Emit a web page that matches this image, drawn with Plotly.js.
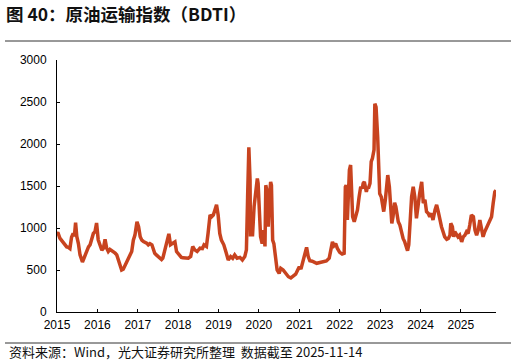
<!DOCTYPE html>
<html>
<head>
<meta charset="utf-8">
<script src="https://cdn.plot.ly/plotly-3.0.1.min.js"></script>
<style>
html,body{margin:0;padding:0;background:#fff;}
#chart{width:516px;height:364px;}
</style>
</head>
<body>
<div id="chart"></div>
<script>
// decimal-year positions of readings
const years = [
2015.00,2015.02,2015.07,2015.12,2015.16,2015.20,2015.24,2015.28,2015.32,2015.36,2015.40,2015.43,2015.46,2015.49,2015.53,2015.57,2015.63,2015.68,2015.74,2015.78,2015.82,2015.86,2015.90,2015.94,2015.98,
2016.02,2016.07,2016.11,2016.15,2016.19,2016.23,2016.27,2016.31,2016.36,2016.40,2016.44,2016.48,2016.52,2016.56,2016.60,2016.64,2016.69,2016.73,2016.77,2016.81,2016.85,2016.89,2016.93,2016.98,
2017.02,2017.06,2017.10,2017.14,2017.18,2017.22,2017.26,2017.30,2017.35,2017.38,2017.42,2017.46,2017.51,2017.55,2017.59,2017.62,2017.65,2017.71,2017.77,2017.81,2017.86,2017.92,2017.96,
2018.03,2018.08,2018.12,2018.17,2018.21,2018.25,2018.31,2018.36,2018.41,2018.47,2018.54,2018.60,2018.64,2018.70,2018.74,2018.79,2018.83,2018.87,2018.91,2018.95,2018.99,
2019.03,2019.07,2019.13,2019.18,2019.24,2019.30,2019.35,2019.40,2019.46,2019.53,2019.59,2019.65,2019.69,2019.72,2019.75,2019.78,2019.79,2019.82,2019.84,2019.88,2019.92,2019.96,2019.98,
2020.01,2020.04,2020.08,2020.12,2020.15,2020.17,2020.21,2020.23,2020.26,2020.29,2020.31,2020.34,2020.37,2020.41,2020.45,2020.50,2020.54,2020.60,2020.66,2020.73,2020.79,2020.85,2020.91,2020.96,
2021.00,2021.04,2021.10,2021.14,2021.18,2021.22,2021.26,2021.32,2021.35,2021.43,2021.51,2021.59,2021.67,2021.74,2021.78,2021.82,2021.86,2021.90,2021.94,
2022.00,2022.06,2022.11,2022.14,2022.16,2022.19,2022.21,2022.24,2022.27,2022.29,2022.32,2022.36,2022.40,2022.44,2022.48,2022.52,2022.56,2022.58,2022.61,2022.64,2022.66,2022.69,2022.71,2022.75,2022.78,2022.81,2022.85,2022.87,2022.90,2022.94,2022.96,2022.99,
2023.03,2023.06,2023.09,2023.13,2023.16,2023.19,2023.23,2023.26,2023.29,2023.32,2023.36,2023.39,2023.42,2023.45,2023.49,2023.53,2023.57,2023.61,2023.65,2023.68,2023.71,2023.74,2023.78,2023.82,2023.86,2023.90,2023.94,2023.98,
2024.03,2024.07,2024.11,2024.15,2024.19,2024.23,2024.27,2024.31,2024.36,2024.40,2024.44,2024.48,2024.52,2024.56,2024.60,2024.65,2024.69,2024.73,2024.75,2024.79,2024.82,2024.85,2024.89,2024.93,2024.97,
2025.02,2025.06,2025.10,2025.14,2025.18,2025.22,2025.26,2025.31,2025.35,2025.39,2025.43,2025.47,2025.51,2025.55,2025.59,2025.64,2025.68,2025.72,2025.76,2025.80,2025.84,2025.87
];
// BDTI index values
const bdti = [
930,950,880,850,815,790,775,770,755,890,935,900,1065,900,815,680,595,655,735,775,800,875,935,955,1060,
860,780,735,760,865,760,720,745,730,720,700,680,620,580,500,510,560,600,640,680,720,855,915,1075,
1015,895,855,840,835,820,800,815,800,760,700,680,660,640,625,640,700,780,930,800,820,835,720,
680,650,645,640,645,640,660,780,740,720,760,755,800,780,935,1155,1135,1155,1215,1275,1155,
935,855,800,720,620,660,640,680,640,650,620,660,740,1370,1960,1570,900,1055,900,1255,1450,1590,1530,
1255,900,815,975,780,1510,1410,1015,1370,1550,1510,855,815,660,500,460,520,500,460,420,405,430,450,500,
540,510,640,700,770,660,610,605,600,580,590,600,608,640,720,835,790,815,760,
710,690,700,1490,1510,1095,1330,1690,1750,1450,1135,1075,1155,1215,1370,1490,1470,1530,1550,1450,1430,1490,1470,1530,1790,1830,1930,2480,2440,2085,1730,1410,
1370,1295,1195,1335,1450,1630,1490,1215,1055,1135,1300,1255,1170,1075,1035,935,875,835,760,730,800,1015,1370,1490,1370,1115,1295,1410,
1550,1295,1335,1195,1175,1135,1175,1095,1215,1275,1195,1095,1015,955,895,865,875,915,1055,1015,895,955,915,895,915,
835,895,915,955,935,1035,1155,1135,975,915,975,1095,1015,895,955,1015,1055,1095,1135,1295,1430,1450
];
const yearTicks = [2015,2016,2017,2018,2019,2020,2021,2022,2023,2024,2025];
const yearLabels = ['2015','2016','2017','2018','2019','2020','2021','2022','2023','2024','2025'];
const yTicks = [0,500,1000,1500,2000,2500,3000];

const titleText = '图 40：原油运输指数（BDTI）';
const sourceText = '资料来源：Wind，光大证券研究所整理  数据截至 2025-11-14';

const trace = {
  x: years, y: bdti, type: 'scatter', mode: 'lines',
  line: {color: '#C8431F', width: 3.5, shape: 'linear'},
  hoverinfo: 'skip'
};

const layout = {
  width: 516, height: 364,
  margin: {l: 57, r: 20, t: 60, b: 52},
  paper_bgcolor: '#fff', plot_bgcolor: '#fff',
  showlegend: false,
  font: {family: 'Liberation Sans, Arial, sans-serif', color: '#000', size: 12},
  title: {
    text: '<b>' + titleText + '</b>',
    x: 6/516, xanchor: 'left', xref: 'container',
    y: 1 - 15/364, yanchor: 'middle', yref: 'container',
    font: {family: 'Noto Sans CJK SC, sans-serif', size: 17.5, color: '#111'}
  },
  xaxis: {
    type: 'linear', range: [2015, 2025.87],
    tickmode: 'array', tickvals: yearTicks, ticktext: yearLabels,
    ticks: 'inside', ticklen: 3, tickcolor: '#000', tickwidth: 1,
    showline: true, linecolor: '#000', linewidth: 1,
    showgrid: false, zeroline: false,
    ticklabelstandoff: 2,
    tickfont: {size: 12, family: 'Liberation Sans, Arial, sans-serif', color: '#000'}
  },
  yaxis: {
    range: [0, 3000],
    tickmode: 'array', tickvals: yTicks,
    ticks: 'inside', ticklen: 3, tickcolor: '#000', tickwidth: 1,
    showline: true, linecolor: '#000', linewidth: 1,
    showgrid: false, zeroline: false,
    ticklabelstandoff: 7,
    tickfont: {size: 12, family: 'Liberation Sans, Arial, sans-serif', color: '#000'}
  },
  shapes: [
    {type: 'line', xref: 'paper', yref: 'paper', x0: -52/439, x1: 454/439, y0: (312-41)/252, y1: (312-41)/252, line: {color: '#333', width: 1}},
    {type: 'line', xref: 'paper', yref: 'paper', x0: -52/439, x1: 454/439, y0: (312-343)/252, y1: (312-343)/252, line: {color: '#333', width: 1}}
  ],
  annotations: [
    {text: sourceText, xref: 'paper', yref: 'paper', x: -50/439, y: (312-352)/252,
     xanchor: 'left', yanchor: 'middle', showarrow: false,
     font: {family: 'Noto Sans CJK SC, sans-serif', size: 13, color: '#111'}}
  ]
};

Plotly.newPlot('chart', [trace], layout, {staticPlot: true, displayModeBar: false});
</script>
</body>
</html>
